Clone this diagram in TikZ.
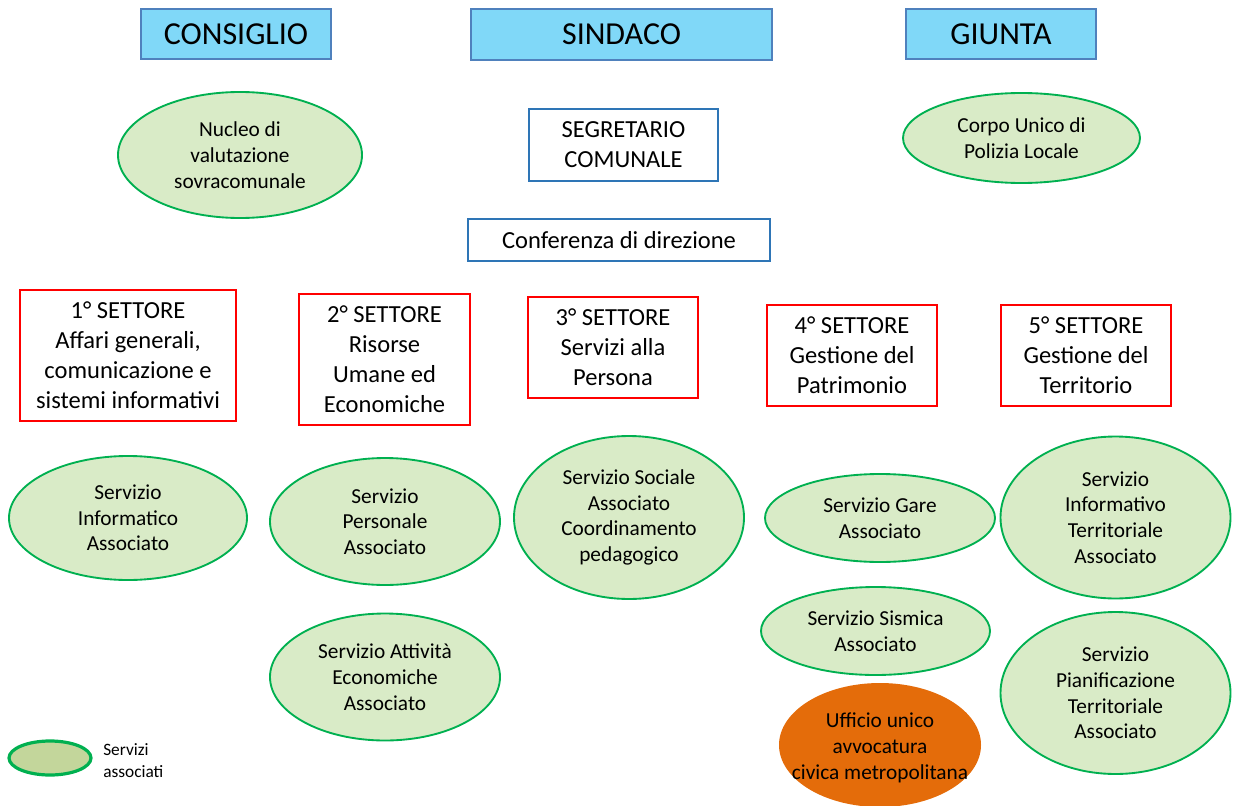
\documentclass[tikz,border=0pt]{standalone}
\usepackage{fontspec}
\setmainfont{Carlito}
\usetikzlibrary{shapes.geometric}
\definecolor{topfill}{RGB}{128,216,248}
\definecolor{topline}{RGB}{79,129,189}
\definecolor{segline}{RGB}{46,117,182}
\definecolor{secred}{RGB}{255,0,0}
\definecolor{ellfill}{RGB}{217,235,199}
\definecolor{ellline}{RGB}{0,176,80}
\definecolor{orfill}{RGB}{228,108,10}
\definecolor{legfill}{RGB}{195,214,155}
\tikzset{
  topbox/.style={draw=topline, fill=topfill, line width=1.1pt, inner sep=0pt, font=\fontsize{24}{29}\selectfont},
  segbox/.style={draw=segline, line width=1.1pt, inner sep=0pt, align=center, font=\fontsize{18.4}{22.5}\selectfont},
  secbox/.style={draw=secred, line width=1.4pt, inner sep=0pt, align=center, font=\fontsize{18.4}{22.5}\selectfont},
  ell/.style={ellipse, draw=ellline, fill=ellfill, line width=1.4pt, inner sep=0pt, align=center, font=\fontsize{16}{19.3}\selectfont},
  orell/.style={ellipse, draw=none, fill=orfill, inner sep=0pt},
  orlabel/.style={inner sep=0pt, align=center, font=\fontsize{16}{19.3}\selectfont},
  legell/.style={ellipse, draw=ellline, fill=legfill, line width=2.4pt, inner sep=0pt},
  legtext/.style={anchor=west, inner sep=0pt, align=left, font=\fontsize{13}{16.5}\selectfont},
}
\begin{document}
\begin{tikzpicture}[x=0.75pt, y=-0.75pt]
\useasboundingbox (0,0) rectangle (1234,806);
% top boxes
\node[topbox, minimum width=142.5pt, minimum height=37.5pt] (consiglio) at (236,34) {CONSIGLIO};
\node[topbox, minimum width=225.75pt, minimum height=38.25pt] (sindaco) at (621.5,34.5) {SINDACO};
\node[topbox, minimum width=142.5pt, minimum height=37.5pt] (giunta) at (1001,34) {GIUNTA};
% second row
\node[ell, minimum width=183pt, minimum height=94.5pt] (nucleo) at (240,155) {Nucleo di\\valutazione\\sovracomunale};
\node[segbox, minimum width=141.75pt, minimum height=54pt] (segr) at (623.5,145) {SEGRETARIO\\COMUNALE};
\node[ell, minimum width=177.75pt, minimum height=67.5pt] (corpo) at (1021.5,138) {Corpo Unico di\\Polizia Locale};
\node[segbox, minimum width=226.5pt, minimum height=31.5pt] (conf) at (619,240) {Conferenza di direzione};
% sectors
\node[secbox, minimum width=162pt, minimum height=98.25pt] (s1) at (128,355.5) {1° SETTORE\\Affari generali,\\comunicazione e\\sistemi informativi};
\node[secbox, minimum width=128.25pt, minimum height=98.25pt] (s2) at (384.5,359.5) {2° SETTORE\\Risorse\\Umane ed\\Economiche};
\node[secbox, minimum width=127.5pt, minimum height=75.75pt] (s3) at (613,347.5) {3° SETTORE\\Servizi alla\\Persona};
\node[secbox, minimum width=127.5pt, minimum height=75.75pt] (s4) at (852,355.5) {4° SETTORE\\Gestione del\\Patrimonio};
\node[secbox, minimum width=127.5pt, minimum height=75.75pt] (s5) at (1086,355.5) {5° SETTORE\\Gestione del\\Territorio};
% services
\node[ell, minimum width=178.5pt, minimum height=93pt] (inf) at (128,518) {Servizio\\Informatico\\Associato};
\node[ell, minimum width=172.5pt, minimum height=95.25pt] (pers) at (385,521.5) {Servizio\\Personale\\Associato};
\node[ell, minimum width=172.5pt, minimum height=95.25pt] (att) at (385,677) {Servizio Attività\\Economiche\\Associato};
\node[ell, minimum width=172.5pt, minimum height=122.25pt] (soc) at (629,517.5) {Servizio Sociale\\Associato\\Coordinamento\\pedagogico};
\node[ell, minimum width=172.5pt, minimum height=66pt] (gare) at (880,518) {Servizio Gare\\Associato};
\node[ell, minimum width=171.75pt, minimum height=66pt] (sism) at (875.5,631) {Servizio Sismica\\Associato};
\node[orell, minimum width=151.5pt, minimum height=93pt] (uff) at (880,745) {};
\node[orlabel] (ufft) at (880,748) {Ufficio unico\\avvocatura\\civica metropolitana};
\node[ell, minimum width=172.5pt, minimum height=121.5pt] (sit) at (1115.5,517.5) {Servizio\\Informativo\\Territoriale\\Associato};
\node[ell, minimum width=172.5pt, minimum height=121.5pt] (pian) at (1115.5,693) {Servizio\\Pianificazione\\Territoriale\\Associato};
% legend
\node[legell, minimum width=61.5pt, minimum height=25.5pt] (leg) at (50,758) {};
\node[legtext] (legt) at (103,761) {Servizi\\associati};
\end{tikzpicture}
\end{document}
